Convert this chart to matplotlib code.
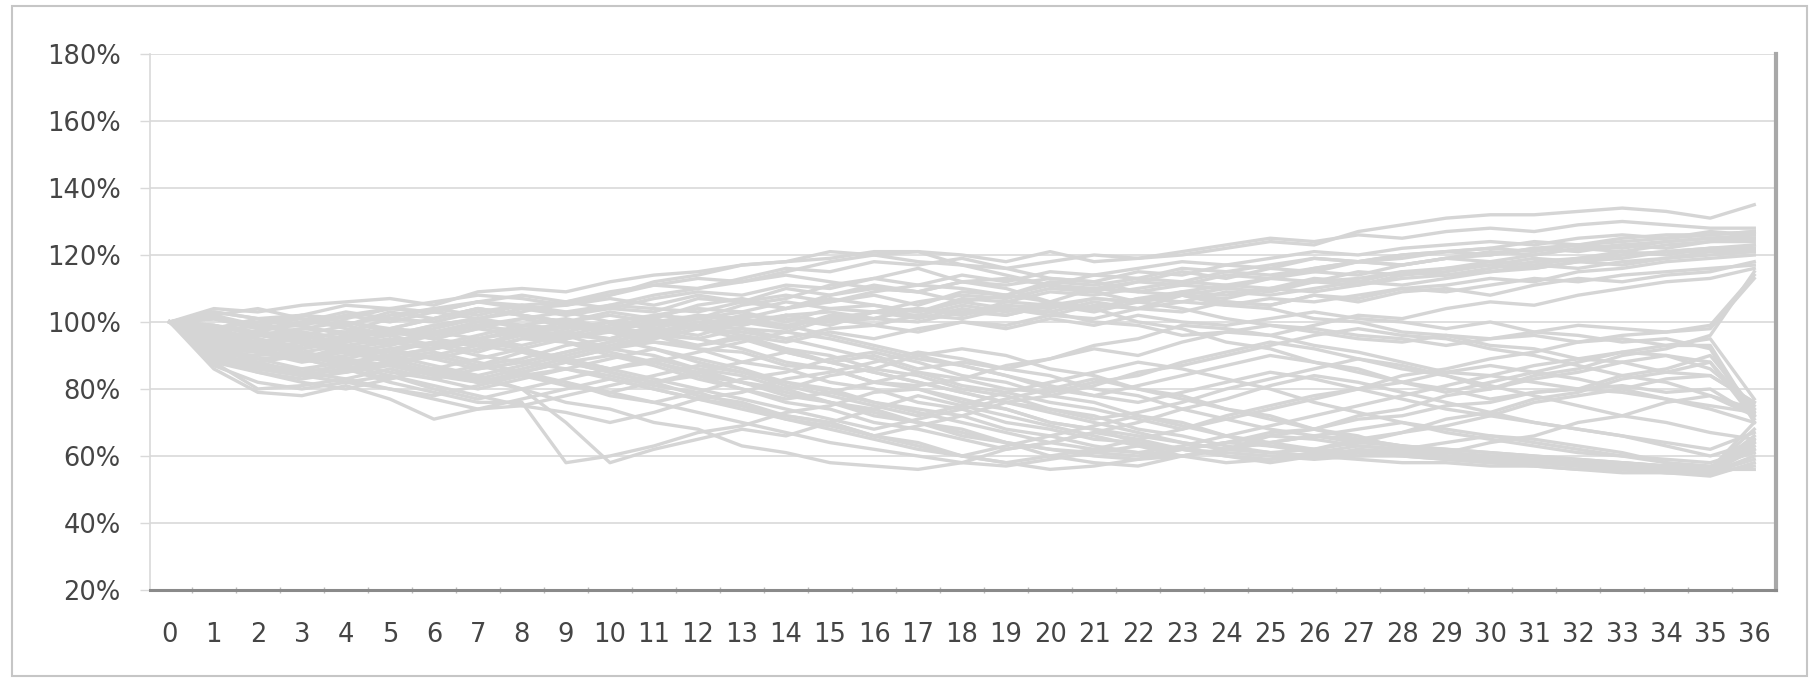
import matplotlib
matplotlib.use("Agg")
import matplotlib.pyplot as plt
from matplotlib.patches import Rectangle
from matplotlib.ticker import FuncFormatter, MultipleLocator

# months 0..36, values in % of the starting level
months = list(range(37))

# paths that end up in the top bundle (~113-135%)
upper_paths = [
    [100,104,103,105,106,107,105,109,110,109,112,114,115,117,118,119,121,121,120,118,121,118,119,120,122,124,123,127,129,131,132,132,133,134,133,131,135],
    [100,103,101,102,105,104,106,108,107,105,108,111,110,113,116,115,118,117,119,116,118,120,119,121,123,125,124,126,125,127,128,127,129,130,129,128,128],
    [100,99,96,98,97,101,100,103,105,102,104,103,107,106,104,108,110,109,112,111,113,112,115,114,117,116,119,118,120,121,122,124,123,125,126,126,127],
    [100,95,93,96,94,98,97,100,99,101,98,102,104,103,106,104,103,106,108,107,110,109,112,111,114,113,116,118,117,119,121,120,122,123,124,125,126],
    [100,92,91,89,93,95,93,96,99,97,100,98,101,103,100,104,105,103,106,108,106,110,109,111,110,113,115,114,117,119,118,120,122,121,123,124,125],
    [100,102,99,101,99,103,101,104,102,100,103,101,105,107,104,106,108,105,109,108,111,110,112,115,113,116,115,118,117,119,120,122,121,123,122,124,124],
    [100,90,88,90,89,92,94,91,95,94,92,96,95,98,97,101,99,102,101,104,103,106,104,108,107,110,112,111,114,115,117,116,118,119,121,121,123],
    [100,97,95,92,96,98,96,99,101,103,100,99,102,101,104,107,105,103,107,106,109,108,110,112,111,113,112,115,114,116,118,117,119,121,120,122,122],
    [100,94,97,96,99,96,98,101,98,96,95,98,96,100,99,101,103,102,105,103,106,104,107,109,108,110,109,111,113,114,115,117,116,118,119,120,121],
    [100,98,100,102,101,104,103,101,104,105,107,105,108,106,110,108,111,109,112,113,111,114,113,116,115,117,119,118,120,121,120,122,123,122,124,125,125],
    [100,88,87,86,85,88,90,87,91,89,92,94,93,96,94,97,95,98,100,99,102,101,104,103,106,105,108,107,110,111,113,112,115,116,118,119,120],
    [100,96,92,94,95,93,97,99,97,100,102,100,99,102,101,99,103,104,102,105,104,107,106,108,110,109,112,113,115,114,116,118,119,120,121,122,123],
    [100,101,98,99,102,100,103,106,104,102,105,104,103,106,108,106,109,111,110,108,112,111,113,112,115,114,116,118,119,121,122,121,123,124,125,126,127],
    [100,93,94,92,95,97,95,98,96,99,97,100,102,100,98,102,101,104,103,102,105,104,107,106,109,108,110,112,111,113,115,116,118,117,119,121,121],
    [100,99,97,100,99,102,104,102,105,106,104,107,109,108,111,110,113,111,114,112,115,114,116,118,117,119,121,120,122,123,124,123,125,126,125,127,126],
    [100,91,90,91,93,91,94,93,97,95,98,97,100,99,102,100,101,104,102,106,105,107,106,109,111,110,113,112,115,116,117,119,118,120,121,122,122],
    [100,96,93,95,97,96,99,101,99,98,100,102,101,99,102,103,101,100,103,104,102,105,104,106,105,107,106,108,110,109,111,113,112,114,115,116,117],
    [100,93,91,89,92,94,92,95,97,95,98,100,98,97,95,98,99,97,100,98,101,99,102,100,99,101,103,101,100,98,100,97,99,98,97,99,114],
    [100,91,89,90,87,90,92,94,92,95,97,95,98,100,102,100,103,101,104,102,105,103,106,108,106,105,108,106,109,110,108,111,113,112,114,115,118],
    [100,101,99,97,95,98,101,104,102,100,98,96,93,95,91,88,90,86,88,86,89,92,90,94,97,96,99,102,101,104,106,105,108,110,112,113,116],
    [100,92,94,91,89,87,90,93,91,88,85,82,84,80,77,79,82,85,81,79,76,74,71,68,72,75,78,80,84,86,89,91,94,96,97,98,113],
]

# paths that zigzag through the middle of the range
middle_paths = [
    [100,103,101,99,102,104,103,106,108,106,109,111,113,112,114,112,110,109,106,104,103,100,99,96,97,99,98,96,95,93,95,96,94,95,93,93,72],
    [100,101,98,100,103,101,104,106,105,103,105,108,110,112,115,118,120,118,117,114,111,109,106,104,101,99,97,95,94,96,95,97,96,94,95,92,70],
    [100,95,91,88,90,92,89,86,88,91,94,97,99,98,95,92,89,85,83,80,79,82,84,88,91,94,92,89,86,84,80,83,85,88,90,86,75],
    [100,90,86,84,86,88,85,82,84,86,83,80,77,75,71,69,66,69,72,76,78,81,85,87,90,93,96,98,96,95,92,90,87,84,82,78,74],
    [100,87,82,80,82,84,81,78,75,73,70,73,77,79,83,85,88,91,89,86,84,80,78,74,71,68,66,64,67,69,72,76,78,80,83,84,76],
    [100,86,79,78,81,77,71,74,75,78,81,84,87,85,82,79,76,73,70,67,64,62,61,63,66,69,72,75,78,81,84,87,89,91,90,88,73],
    [100,97,93,90,88,85,83,86,88,86,84,81,79,75,72,70,66,63,60,58,60,62,65,68,71,74,77,80,82,85,87,85,83,80,77,74,70],
    [100,102,104,101,98,96,99,101,103,106,108,112,114,117,118,121,120,121,117,116,113,112,109,108,105,104,101,100,97,96,93,92,89,88,85,84,76],
    [100,96,93,91,88,87,84,87,89,93,95,99,101,105,107,111,113,116,112,110,106,104,100,98,94,92,88,86,82,80,77,79,80,84,86,90,74],
    [100,99,96,98,100,97,95,98,101,99,97,94,92,88,86,82,80,76,74,70,68,65,64,62,64,67,68,71,72,75,76,79,80,79,77,75,73],
    [100,88,85,83,85,87,84,82,85,88,90,88,84,82,78,76,72,70,66,64,60,58,57,60,62,66,68,72,74,78,80,84,86,90,92,96,115],
    [100,101,99,97,95,98,101,104,102,100,97,96,92,91,87,86,82,81,83,87,89,93,95,99,98,96,93,91,88,85,84,82,80,81,79,80,72],
    [100,97,99,96,93,90,92,95,98,96,92,90,86,84,80,84,86,90,92,90,86,84,80,78,74,72,68,66,62,61,64,66,70,72,76,78,72],
    [100,94,97,95,92,89,91,88,85,82,78,76,79,83,85,89,91,88,84,82,78,76,72,70,66,64,62,65,67,71,73,77,79,83,85,88,71],
    [100,98,101,99,96,94,97,95,92,89,86,88,91,94,97,95,92,89,87,84,80,78,81,84,87,90,88,85,82,79,82,85,88,91,93,95,77],
    [100,95,97,94,91,93,96,99,97,94,90,87,83,80,76,74,70,68,65,62,64,67,70,74,77,81,84,82,79,76,73,70,68,66,63,60,64],
    [100,97,94,96,93,91,89,92,95,97,95,92,88,85,81,78,75,72,75,79,82,85,88,86,83,80,76,73,70,67,65,63,61,60,59,58,62],
    [100,90,92,89,86,88,85,83,86,89,92,95,98,101,99,96,93,90,87,84,81,78,76,79,82,85,83,80,77,74,72,70,68,66,64,62,67],
    [100,94,91,93,96,94,92,95,93,96,99,101,98,95,92,88,85,82,79,76,74,71,73,76,80,83,86,89,87,84,81,78,75,72,70,67,65],
]

# paths that sink into the bottom bundle (~55-60%)
lower_paths = [
    [100,92,88,85,87,84,80,77,80,76,74,70,68,63,61,58,57,56,58,62,64,67,65,62,60,59,61,63,62,60,59,58,57,56,55,55,62],
    [100,91,87,84,86,82,79,76,76,58,60,63,67,69,73,75,79,80,77,74,70,68,64,62,60,58,60,62,61,59,58,57,56,56,55,55,57],
    [100,93,89,86,88,90,87,84,80,70,58,62,65,68,66,70,74,78,75,72,69,66,63,60,58,59,60,61,61,60,59,58,58,57,56,55,64],
    [100,96,92,89,91,88,85,82,85,88,85,82,78,76,72,70,66,64,60,58,56,57,59,62,64,63,62,61,60,59,58,58,57,56,56,55,60],
    [100,89,85,82,80,83,86,83,80,83,86,89,86,82,80,76,74,70,68,64,62,60,59,60,62,64,66,65,63,62,61,60,59,58,57,56,66],
    [100,98,95,92,94,96,93,90,88,91,94,97,95,92,88,86,82,80,76,74,70,68,66,64,62,61,60,61,62,64,66,65,63,61,58,56,68],
    [100,90,87,85,83,86,83,80,83,86,89,92,89,86,82,80,76,74,72,68,66,63,61,60,62,64,66,68,70,68,66,64,62,60,58,57,61],
    [100,95,91,94,92,89,86,84,87,90,93,96,99,96,92,90,86,84,80,78,74,72,68,66,63,61,60,59,58,58,57,57,56,55,55,54,58],
    [100,88,80,81,83,80,77,74,77,80,83,80,77,74,71,68,65,62,60,63,66,69,72,69,66,63,61,60,60,59,59,58,58,57,57,56,63],
    [100,95,92,89,86,83,86,89,92,89,86,83,80,77,74,71,68,71,74,77,80,83,80,77,74,71,68,65,63,62,61,60,59,58,57,56,56],
    [100,93,96,94,91,88,90,87,84,81,79,76,73,70,67,64,62,60,58,57,59,61,63,62,61,60,59,60,61,60,59,59,58,57,56,55,59],
    [100,97,99,102,100,98,95,93,96,94,91,88,85,82,79,76,73,70,67,64,62,61,60,62,64,66,65,63,62,61,60,59,58,57,56,56,70],
    [100,89,86,84,82,80,78,81,84,82,79,82,85,88,91,88,85,82,79,76,73,70,67,64,62,61,62,64,63,61,60,59,58,58,57,56,65],
]

for p in upper_paths + middle_paths + lower_paths:
    assert len(p) == len(months), p

fig = plt.figure(figsize=(18.14, 6.78), dpi=100)
ax = fig.add_axes([0.0827, 0.1298, 0.8965, 0.7906])

for path in upper_paths + middle_paths + lower_paths:
    ax.plot(months, path, color='#d5d5d5', lw=2.4, solid_joinstyle='round', zorder=2)

ax.set_xlim(-0.45, 36.5)
ax.set_ylim(20, 180)
ax.yaxis.set_major_locator(MultipleLocator(20))
ax.yaxis.set_major_formatter(FuncFormatter(lambda v, pos: '%d%%' % v))
ax.set_xticks(months)
ax.set_xticks([m + 0.5 for m in months[:-1]], minor=True)

ax.grid(axis='y', color='#d9d9d9', lw=1.2, zorder=0)
ax.set_axisbelow(True)

ax.spines['top'].set_visible(False)
ax.spines['left'].set_color('#d9d9d9')
ax.spines['left'].set_linewidth(1.2)
ax.spines['bottom'].set_color('#8a8a8a')
ax.spines['bottom'].set_linewidth(2.2)
ax.spines['right'].set_color('#a8a8a8')
ax.spines['right'].set_linewidth(3)

ax.tick_params(axis='x', which='major', length=0, pad=23, labelsize=18.5, labelcolor='#454545')
ax.tick_params(axis='x', which='minor', length=5, width=1, color='#bdbdbd', direction='inout')
ax.tick_params(axis='y', which='major', length=7, width=1, color='#d9d9d9', pad=14,
               labelsize=18.5, labelcolor='#454545')

# light frame around the whole chart
fig.patches.append(Rectangle((12 / 1814, 2 / 678), (1807 - 12) / 1814, (672 - 2) / 678,
                             transform=fig.transFigure, fill=False,
                             edgecolor='#c6c6c6', lw=1.5))

fig.savefig('out.png', dpi=100)
